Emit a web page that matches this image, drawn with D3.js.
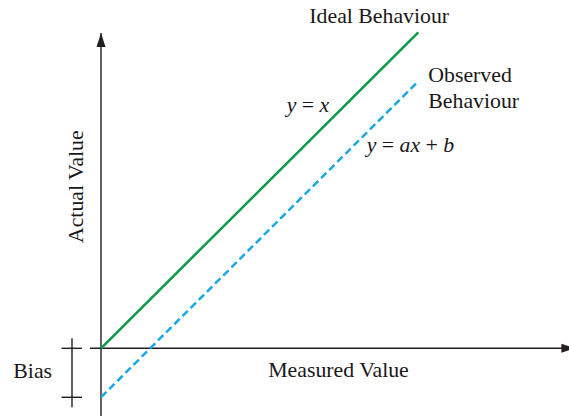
<!DOCTYPE html>
<html>
<head>
<meta charset="utf-8">
<script src="https://cdn.jsdelivr.net/npm/d3@7"></script>
<style>
  html, body { margin: 0; padding: 0; background: #fff; }
  svg { display: block; }
  text { font-family: "Liberation Serif", "Times New Roman", serif; fill: #1a1718; }
</style>
</head>
<body>
<svg id="chart" width="569" height="416"></svg>
<script>
// Axis extents (data units) — measured value on x, actual value on y
const xAxisExtent = [-0.35, 14.95];
const yAxisExtent = [-2.2, 9.98];

// Ideal behaviour: y = x
const idealX = [0, 10];
const idealY = [0, 10];

// Observed behaviour: y = ax + b with a = 1, b = -bias
const observedX = [0, 10];
const observedY = [-1.55, 8.45];
const biasValue = 1.55;

const svg = d3.select("#chart");

const x = d3.scaleLinear().domain([0, 10]).range([101, 418.3]);
const y = d3.scaleLinear().domain([0, 10]).range([348.3, 32.3]);

const axisColor = "#231f20";

// Arrow heads
const defs = svg.append("defs");
defs.append("marker")
  .attr("id", "arrow")
  .attr("viewBox", "0 0 14 10")
  .attr("refX", 14).attr("refY", 5)
  .attr("markerWidth", 14).attr("markerHeight", 10)
  .attr("markerUnits", "userSpaceOnUse")
  .attr("orient", "auto")
  .append("path")
  .attr("d", "M0,0.5 L14,5 L0,9.5 Z")
  .attr("fill", axisColor);

// Axes
svg.append("line")
  .attr("x1", x(xAxisExtent[0])).attr("y1", y(0))
  .attr("x2", x(xAxisExtent[1])).attr("y2", y(0))
  .attr("stroke", axisColor).attr("stroke-width", 1.4)
  .attr("marker-end", "url(#arrow)");

svg.append("line")
  .attr("x1", x(0)).attr("y1", y(yAxisExtent[0]))
  .attr("x2", x(0)).attr("y2", y(yAxisExtent[1]))
  .attr("stroke", axisColor).attr("stroke-width", 1.4)
  .attr("marker-end", "url(#arrow)");

const line = d3.line().x(d => x(d[0])).y(d => y(d[1]));

// Ideal behaviour line
svg.append("path")
  .datum(d3.zip(idealX, idealY))
  .attr("d", line)
  .attr("fill", "none")
  .attr("stroke", "#0a9a48")
  .attr("stroke-width", 2.5);

// Observed behaviour line (dashed)
svg.append("path")
  .datum(d3.zip(observedX, observedY))
  .attr("d", line)
  .attr("fill", "none")
  .attr("stroke", "#1ba6e6")
  .attr("stroke-width", 2.5)
  .attr("stroke-dasharray", "7.5,4");

// Bias bracket
const bx = 72;
const bracket = svg.append("g").attr("stroke", axisColor).attr("stroke-width", 1.4);
bracket.append("line")
  .attr("x1", bx).attr("x2", bx)
  .attr("y1", y(0) - 10).attr("y2", y(-biasValue) + 10);
[0, -biasValue].forEach(v => {
  bracket.append("line")
    .attr("x1", bx - 10.5).attr("x2", bx + 10)
    .attr("y1", y(v)).attr("y2", y(v));
});

// Labels
const fs = 21.8;
svg.append("text").attr("x", 13.3).attr("y", 378.3)
  .attr("font-size", fs).text("Bias");

svg.append("text").attr("x", 338.5).attr("y", 376.7)
  .attr("font-size", fs).attr("text-anchor", "middle").text("Measured Value");

svg.append("text")
  .attr("transform", "translate(83.3,186.7) rotate(-90)")
  .attr("font-size", fs).attr("text-anchor", "middle").text("Actual Value");

svg.append("text").attr("x", 309.3).attr("y", 22.7)
  .attr("font-size", fs).text("Ideal Behaviour");

svg.append("text").attr("x", 428.3).attr("y", 81.7)
  .attr("font-size", fs).text("Observed");
svg.append("text").attr("x", 428.3).attr("y", 108.3)
  .attr("font-size", fs).text("Behaviour");

// Equation labels
function equation(xPos, yPos, parts) {
  const t = svg.append("text").attr("x", xPos).attr("y", yPos).attr("font-size", fs);
  parts.forEach(p => {
    t.append("tspan").attr("font-style", p.i ? "italic" : "normal").text(p.s);
  });
}
equation(286.7, 111.7, [{s: "y", i: true}, {s: " = "}, {s: "x", i: true}]);
equation(366.7, 151.7, [{s: "y", i: true}, {s: " = "}, {s: "ax", i: true}, {s: " + "}, {s: "b", i: true}]);
</script>
</body>
</html>
